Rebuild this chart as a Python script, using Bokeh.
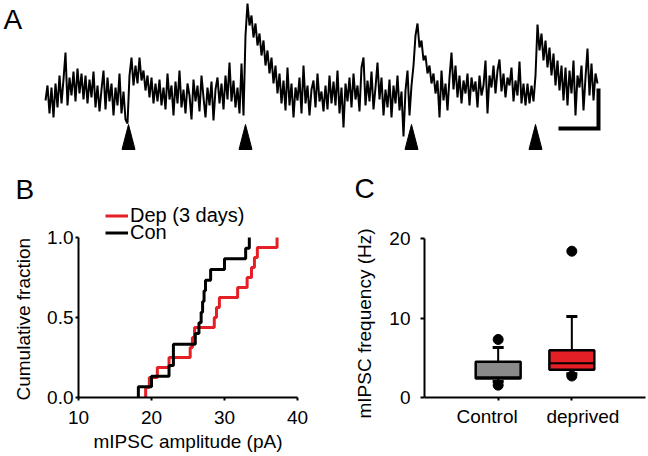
import numpy as np
from bokeh.plotting import figure
from bokeh.layouts import column, row
from bokeh.models import (Range1d, FixedTicker, PrintfTickFormatter, Legend,
                          LegendItem, Label, LinearAxis, CustomJSTickFormatter,
                          Title)
from bokeh.embed import file_html
from bokeh.resources import INLINE

FONT = "Liberation Sans"
RED = "#e41f25"
GRAY = "#8a8a8a"
FS = "19px"

# ---------------- Panel A data (trace) ----------------
TRACE_DT_MS = 2.0
TRACE_PA = [
    -5, 10, -18, 8, -22, 12, -12, 20, -8, 16, 43, -10, 18, 0, 24, -6, 27, 2, 22, -4,
    20, -8, 16, -2, 24, -12, 10, -16, 6, 25, -14, 18, -6, 12, -20, 8, -10, 22, -18, 4,
    -24, -28, 20, 38, 10, 30, 12, 38, 15, 25, 5, 20, -2, 18, -8, 12, -6, 16, -10, 8,
    -14, 22, -4, 10, -20, 14, -8, 25, -12, 6, -18, 12, 0, -24, 16, -6, 10, -16, 20, -2,
    -22, 8, -10, 14, -25, 6, 18, -8, 12, -14, 20, -4, 33, -6, 15, -12, 8, -18, 32, -20,
    60, 92, 70, 80, 58, 72, 50, 62, 40, 55, 30, 45, 22, 38, 12, 30, 2, 22, -8, 15,
    -15, 28, -10, 12, -22, 8, -5, 18, -18, 30, -8, 10, -20, 6, 15, -12, 22, -6, 4, -16,
    10, -14, 20, -8, 14, -10, 25, -18, 8, -32, 12, -6, 18, -12, 22, -4, 10, -16, 28, 38,
    -10, 15, -6, 24, -14, 8, 33, -4, 18, -20, 6, -12, 16, -22, 10, -8, 20, -15, 4, -41,
    5, 25, -20, 10, 30, 60, 72, 48, 55, 35, 40, 22, 30, 12, 22, 2, 15, -22, 25, -5,
    12, -15, 18, 43, 6, 30, -2, 20, -8, 15, 2, 22, -10, 18, 4, 14, -12, 20, 0, 10,
    35, -18, 20, 8, 30, 2, 25, 36, 4, 22, -2, 18, 10, 28, -6, 15, 0, 34, -8, 12,
    -10, 12, -8, 10, -6, 20, 71, 45, 62, 35, 55, 28, 48, 20, 42, 10, 35, 5, 30, -5,
    28, -10, 25, 2, 35, -20, 20, 8, 30, -15, 18, 47, 0, 32, -5, 22, 12,
]
EVENT_TIMES_MS = [83, 200, 366, 490]
SCALE_MS = 40
SCALE_PA = 40

# ---------------- Panel B data (cumulative amplitude) ----------------
CON_AMPS = [18.2, 20.0, 22.4, 23.0, 23.0, 26.0, 26.5, 26.8, 27.0, 27.2, 27.4,
            28.1, 30.0, 32.9, 33.4]
DEP_AMPS = [19.2, 19.7, 20.8, 22.4, 25.3, 25.6, 25.9, 28.6, 28.9, 29.3, 31.8,
            33.1, 33.7, 34.1, 34.5, 37.2]
B_XTICKS = [10, 20, 30, 40]
B_YTICKS = [0.0, 0.5, 1.0]

# ---------------- Panel C data (box plot of frequency) ----------------
GROUPS = ["Control", "deprived"]
Q1 = [2.4, 3.5]
MEDIAN = [2.55, 4.3]
Q3 = [4.5, 5.95]
WHISK_LO = [2.0, 3.0]
WHISK_HI = [6.3, 10.2]
OUT_LO = [1.55, 2.7]
OUT_HI = [7.3, 18.4]
BOX_COLORS = [GRAY, RED]
C_YTICKS = [0, 10, 20]

# ---------------- layout (pixels) ----------------
H_A = 204          # height of the trace strip (also holds panel letters)
H_BC = 456 - H_A   # height of the lower row
FRAME_BOTTOM = 59  # space under the B / C frames
B_PX_PER_UNIT = 160.0
LABEL_DY = 9       # measured offset of Label baselines in this renderer


def style_axis(ax):
    ax.axis_line_width = 2
    ax.axis_line_color = "black"
    ax.major_tick_line_width = 2
    ax.major_tick_line_color = "black"
    ax.major_tick_out = 3
    ax.major_tick_in = 0
    ax.minor_tick_line_color = None
    ax.major_label_text_font = FONT
    ax.major_label_text_font_size = FS
    ax.major_label_text_color = "black"
    ax.axis_label_text_font = FONT
    ax.axis_label_text_font_size = FS
    ax.axis_label_text_font_style = "normal"
    ax.axis_label_text_color = "black"


def panel_label(p, text, x, baseline_from_top):
    p.add_layout(Label(x=x, y=H_A - baseline_from_top + LABEL_DY,
                       x_units="screen", y_units="screen", text=text,
                       text_font=FONT, text_font_size="28px", text_color="black",
                       text_baseline="alphabetic", text_align="left"))


def side_title(p, text, offset, standoff):
    # vertical axis title on the left, starting 'offset' px below the frame bottom
    p.add_layout(Title(text=text, align="left", offset=offset, standoff=standoff,
                       text_font=FONT, text_font_size=FS,
                       text_font_style="normal", text_color="black"), "left")


# ================= Panel A =================
pa = figure(width=648, height=H_A, x_range=Range1d(-45, 603),
            y_range=Range1d(95 - H_A, 95),
            output_backend="svg", toolbar_location=None, min_border=0)
pa.xaxis.visible = False
pa.yaxis.visible = False
pa.grid.visible = False
pa.outline_line_color = None

t = np.arange(len(TRACE_PA)) * TRACE_DT_MS
pa.line(t, TRACE_PA, line_color="black", line_width=2.0)

tri_xs = [[e - 6.5, e + 6.5, e] for e in EVENT_TIMES_MS]
tri_ys = [[-54, -54, -29] for _ in EVENT_TIMES_MS]
pa.patches(tri_xs, tri_ys, fill_color="black", line_color="black")

bar_x_end = t[-1] + 1
bar_y = -33
pa.line([bar_x_end - SCALE_MS, bar_x_end, bar_x_end],
        [bar_y, bar_y, bar_y + SCALE_PA], line_color="black", line_width=4,
        line_join="miter")
panel_label(pa, "A", 3, 28)
panel_label(pa, "B", 15, 198)
panel_label(pa, "C", 354, 197)

# ================= Panel B =================
b_frame_h = H_BC - FRAME_BOTTOM
pb = figure(width=330, height=H_BC, x_range=Range1d(10, 40),
            y_range=Range1d(0, b_frame_h / B_PX_PER_UNIT),
            output_backend="svg", toolbar_location=None,
            min_border_left=78, min_border_right=33, min_border_top=0,
            min_border_bottom=FRAME_BOTTOM)
pb.grid.visible = False
pb.outline_line_color = None
for ax in (pb.xaxis[0], pb.yaxis[0]):
    style_axis(ax)
pb.xaxis.ticker = FixedTicker(ticks=B_XTICKS)
pb.yaxis.ticker = FixedTicker(ticks=B_YTICKS)
pb.yaxis.bounds = (B_YTICKS[0], B_YTICKS[-1])
pb.yaxis.formatter = PrintfTickFormatter(format="%.1f")
pb.xaxis.axis_label = "mIPSC amplitude (pA)"
pb.xaxis.major_label_standoff = 10
pb.xaxis.axis_label_standoff = 4
pb.yaxis.major_label_standoff = 2
side_title(pb, "Cumulative fraction", offset=-3, standoff=21)


def cum_steps(vals):
    v = sorted(vals)
    n = len(v)
    xs, ys = [], []
    for i, a in enumerate(v):
        xs += [a, a]
        ys += [i / n, (i + 1) / n]
    return xs, ys


dx, dy = cum_steps(DEP_AMPS)
cx, cy = cum_steps(CON_AMPS)
r_dep = pb.line(dx, dy, line_color=RED, line_width=3)
r_con = pb.line(cx, cy, line_color="black", line_width=3)

# legend rows centred 216 px and 233 px from the top of the page
for label, rend, row_center in (("Dep (3 days)", r_dep, 216), ("Con", r_con, 233)):
    leg = Legend(items=[LegendItem(label=label, renderers=[rend])],
                 location=(27, 397 - row_center - 11), border_line_color=None,
                 background_fill_alpha=0, padding=0, margin=0, spacing=0,
                 glyph_width=23, glyph_height=17, label_height=17,
                 label_standoff=2, label_text_font=FONT,
                 label_text_font_size="20px", label_text_color="black")
    pb.add_layout(leg)

# ================= Panel C =================
pc = figure(width=318, height=H_BC, x_range=Range1d(0, 3),
            y_range=Range1d(C_YTICKS[0], C_YTICKS[-1]),
            output_backend="svg", toolbar_location=None,
            min_border_left=94, min_border_right=3, min_border_top=34,
            min_border_bottom=FRAME_BOTTOM, x_axis_location=None)
pc.grid.visible = False
pc.outline_line_color = None
xpos = np.arange(1, len(GROUPS) + 1)

# axis with the tick marks at the box centres
ax_ticks = LinearAxis(ticker=FixedTicker(ticks=list(xpos)),
                      formatter=CustomJSTickFormatter(code="return ''"))
style_axis(ax_ticks)
ax_ticks.major_label_standoff = 0
pc.add_layout(ax_ticks, "below")
# category names, set slightly apart as in the figure
LABEL_SHIFT = 0.15
label_pos = [float(x) + (i - 0.5) * 2 * LABEL_SHIFT for i, x in enumerate(xpos)]
ax_names = LinearAxis(ticker=FixedTicker(ticks=label_pos),
                      formatter=CustomJSTickFormatter(args=dict(names=GROUPS),
                                                      code="return names[index]"))
style_axis(ax_names)
ax_names.axis_line_color = None
ax_names.major_tick_line_color = None
ax_names.major_tick_out = 0
ax_names.major_label_standoff = 5
pc.add_layout(ax_names, "below")

style_axis(pc.yaxis[0])
pc.yaxis.ticker = FixedTicker(ticks=C_YTICKS)
pc.yaxis.major_tick_out = 4
pc.yaxis.major_label_standoff = 10
side_title(pc, "mIPSC frequency (Hz)", offset=-21, standoff=23)

BOX_W = 0.61
CAP_W = 0.15
pc.segment(xpos, Q3, xpos, WHISK_HI, line_color="black", line_width=2)
pc.segment(xpos, WHISK_LO, xpos, Q1, line_color="black", line_width=2)
pc.segment(xpos - CAP_W / 2, WHISK_HI, xpos + CAP_W / 2, WHISK_HI,
           line_color="black", line_width=3)
pc.segment(xpos - CAP_W / 2, WHISK_LO, xpos + CAP_W / 2, WHISK_LO,
           line_color="black", line_width=3)
pc.vbar(x=xpos, width=BOX_W, bottom=Q1, top=Q3, fill_color=BOX_COLORS,
        line_color="black", line_width=2.5)
pc.segment(xpos - BOX_W / 2, MEDIAN, xpos + BOX_W / 2, MEDIAN,
           line_color="black", line_width=2)
pc.scatter(list(xpos) * 2, OUT_LO + OUT_HI, size=10, marker="circle",
           fill_color="black", line_color="black")

layout = column(pa, row(column(pb), column(pc)))
open("out.html", "w").write(file_html(layout, INLINE))
